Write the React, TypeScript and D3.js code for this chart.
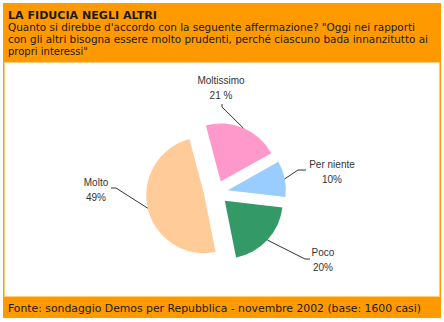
import React from "react";
import * as d3 from "d3";

const categories = ["Moltissimo", "Per niente", "Poco", "Molto"];
const values = [21, 10, 20, 49];
const valueLabels = ["21 %", "10%", "20%", "49%"];
const colors = ["#FF99CC", "#99CCFF", "#339966", "#FFCC99"];

const titleText = "LA FIDUCIA NEGLI ALTRI";
const subtitleLines = [
  "Quanto si direbbe d'accordo con la seguente affermazione? \"Oggi nei rapporti",
  "con gli altri bisogna essere molto prudenti, perché ciascuno bada innanzitutto ai",
  "propri interessi\"",
];
const footerText = "Fonte: sondaggio Demos per Repubblica - novembre 2002 (base: 1600 casi)";

// layout
const W = 444;
const H = 322;
const CX = 216;
const CY = 192.5;
const R = 58;
const EXPLODE = 12;
const START = (-14.8 * Math.PI) / 180;

const subtitleWidths: (number | undefined)[] = [407, 420, undefined];
// label anchor (center x, baseline y of first line) and leader elbow points
const labelLayout = [
  { x: 221, y: 84, elbow: [[222, 104], [222, 107]] },
  { x: 332, y: 168, elbow: [[306, 170], [298, 170]] },
  { x: 323, y: 256, elbow: [[310, 259], [305, 259]] },
  { x: 96, y: 186, elbow: [[111, 188], [116, 188]] },
];

export default function App() {
  const pie = d3
    .pie<number>()
    .sort(null)
    .value((d) => d)
    .startAngle(START)
    .endAngle(START + 2 * Math.PI);
  const arcs = pie(values);
  const arc = d3.arc<d3.PieArcDatum<number>>().innerRadius(0).outerRadius(R);
  const line = d3.line();

  return (
    <div style={{ position: "fixed", left: 0, top: 0 }}>
      <svg width={W} height={H} style={{ display: "block" }}>
        <rect x={0} y={0} width={W} height={H} fill="#ffffff" />
        <rect x={3} y={3} width={438} height={315} fill="#FF9900" />
        <rect x={4.5} y={62.5} width={435} height={234} fill="#ffffff" stroke="#FFCC77" strokeWidth={1} />
        <g fontFamily="'DejaVu Sans', Verdana, sans-serif" fontSize={10} fill="#1a1a1a">
          <text x={8} y={19} fontWeight="bold" textLength={149} lengthAdjust="spacingAndGlyphs">
            {titleText}
          </text>
          {subtitleLines.map((t, i) =>
            subtitleWidths[i] ? (
              <text key={i} x={8} y={31 + i * 12} textLength={subtitleWidths[i]} lengthAdjust="spacingAndGlyphs">
                {t}
              </text>
            ) : (
              <text key={i} x={8} y={31 + i * 12}>
                {t}
              </text>
            )
          )}
          <text x={8} y={312} textLength={413} lengthAdjust="spacingAndGlyphs">
            {footerText}
          </text>
        </g>
        <g>
          {arcs.map((a, i) => {
            const mid = (a.startAngle + a.endAngle) / 2;
            const dx = Math.sin(mid) * EXPLODE;
            const dy = -Math.cos(mid) * EXPLODE;
            return (
              <path
                key={i}
                d={arc(a) || ""}
                transform={`translate(${CX + dx},${CY + dy})`}
                fill={colors[i]}
              />
            );
          })}
        </g>
        <g fill="none" stroke="#333" strokeWidth={1}>
          {arcs.map((a, i) => {
            const mid = (a.startAngle + a.endAngle) / 2;
            const px = CX + Math.sin(mid) * (EXPLODE + R);
            const py = CY - Math.cos(mid) * (EXPLODE + R);
            const pts = [...labelLayout[i].elbow, [px, py]] as [number, number][];
            return <path key={i} d={line(pts) || ""} />;
          })}
        </g>
        <g fontFamily="'Liberation Sans', Arial, sans-serif" fontSize={10} fill="#333" textAnchor="middle">
          {categories.map((c, i) => (
            <g key={i}>
              <text x={labelLayout[i].x} y={labelLayout[i].y}>
                {c}
              </text>
              <text x={labelLayout[i].x} y={labelLayout[i].y + 15}>
                {valueLabels[i]}
              </text>
            </g>
          ))}
        </g>
      </svg>
    </div>
  );
}
